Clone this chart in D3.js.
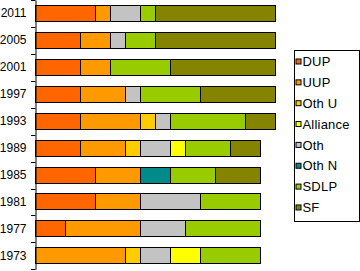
<!DOCTYPE html>
<html>
<head>
<meta charset="utf-8">
<script src="https://cdn.jsdelivr.net/npm/d3@7"></script>
<style>
  body { margin: 0; background: #fff; }
  text { font-family: "Liberation Sans", Arial, sans-serif; }
</style>
</head>
<body>
<script>
const years = ["2011", "2005", "2001", "1997", "1993", "1989", "1985", "1981", "1977", "1973"];
const parties = ["DUP", "UUP", "Oth U", "Alliance", "Oth", "Oth N", "SDLP", "SF"];
const stackOrder = ["DUP", "UUP", "Oth U", "Oth", "Alliance", "Oth N", "SDLP", "SF"];
const colors = ["#ff6600", "#ff9900", "#ffcc00", "#ffff00", "#c3c3c3", "#008a8a", "#99cc00", "#848400"];

// seats per party, same order as years
const DUP      = [4, 3, 3, 3, 3, 3, 4, 4, 2, 0];
const UUP      = [1, 2, 2, 3, 4, 3, 3, 3, 5, 6];
const OthU     = [0, 0, 0, 0, 1, 1, 0, 0, 0, 1];
const Alliance = [0, 0, 0, 0, 0, 1, 0, 0, 0, 2];
const Oth      = [2, 1, 0, 1, 1, 2, 0, 4, 3, 2];
const OthN     = [0, 0, 0, 0, 0, 0, 2, 0, 0, 0];
const SDLP     = [1, 2, 4, 4, 5, 3, 3, 4, 5, 4];
const SF       = [8, 8, 7, 5, 2, 2, 3, 0, 0, 0];

const seriesValues = [DUP, UUP, OthU, Alliance, Oth, OthN, SDLP, SF];

const width = 360;
const height = 271;

const data = years.map((year, i) => {
  const row = {year};
  parties.forEach((p, j) => row[p] = seriesValues[j][i]);
  return row;
});

const series = d3.stack().keys(stackOrder)(data);

const x = d3.scaleLinear()
    .domain([0, 16])
    .range([35.5, 275]);

const y = d3.scaleBand()
    .domain(years)
    .range([0, 269.3])
    .paddingInner(0.37)
    .paddingOuter(0.185);

const color = d3.scaleOrdinal()
    .domain(parties)
    .range(colors);

const svg = d3.select("body")
  .append("svg")
    .attr("width", width)
    .attr("height", height)
    .attr("viewBox", [0, 0, width, height]);

// bars
svg.append("g")
    .attr("shape-rendering", "crispEdges")
  .selectAll("g")
  .data(series)
  .join("g")
    .attr("fill", d => color(d.key))
  .selectAll("rect")
  .data(D => D.filter(d => d[1] > d[0]))
  .join("rect")
    .attr("x", d => x(d[0]))
    .attr("y", d => Math.round(y(d.data.year)) + 0.5)
    .attr("width", d => x(d[1]) - x(d[0]))
    .attr("height", 16)
    .attr("stroke", "#000")
    .attr("stroke-width", 1);

// y axis
svg.append("g")
    .attr("transform", "translate(35.5,0)")
    .call(d3.axisLeft(y).tickSize(0).tickPadding(9).tickSizeOuter(0))
    .call(g => g.select(".domain").attr("stroke", "#000"))
    .call(g => g.selectAll("text").attr("font-size", 12).attr("fill", "#000")
      .attr("font-family", "'Liberation Sans', Arial, sans-serif"));

// boundary ticks
const step = y.step();
const bounds = d3.range(years.length + 1).map(i => y(years[0]) - y.paddingOuter() * step + i * step);
svg.append("g")
  .selectAll("line")
  .data(bounds)
  .join("line")
    .attr("x1", 31)
    .attr("x2", 35.5)
    .attr("y1", d => Math.round(d) + 0.5)
    .attr("y2", d => Math.round(d) + 0.5)
    .attr("stroke", "#000");

// legend
const legend = svg.append("g")
    .attr("transform", "translate(294.5,50.5)");

legend.append("rect")
    .attr("width", 65)
    .attr("height", 171)
    .attr("fill", "#fff")
    .attr("stroke", "#000");

const item = legend.selectAll("g")
  .data(parties)
  .join("g")
    .attr("transform", (d, i) => `translate(0,${11 + i * 20.85})`);

item.append("rect")
    .attr("x", 1.5)
    .attr("y", -2.5)
    .attr("width", 5)
    .attr("height", 5)
    .attr("fill", d => color(d))
    .attr("stroke", "#000");

item.append("text")
    .attr("x", 8)
    .attr("dy", "0.36em")
    .attr("font-size", 13)
    .attr("letter-spacing", 0.2)
    .text(d => d);
</script>
</body>
</html>
